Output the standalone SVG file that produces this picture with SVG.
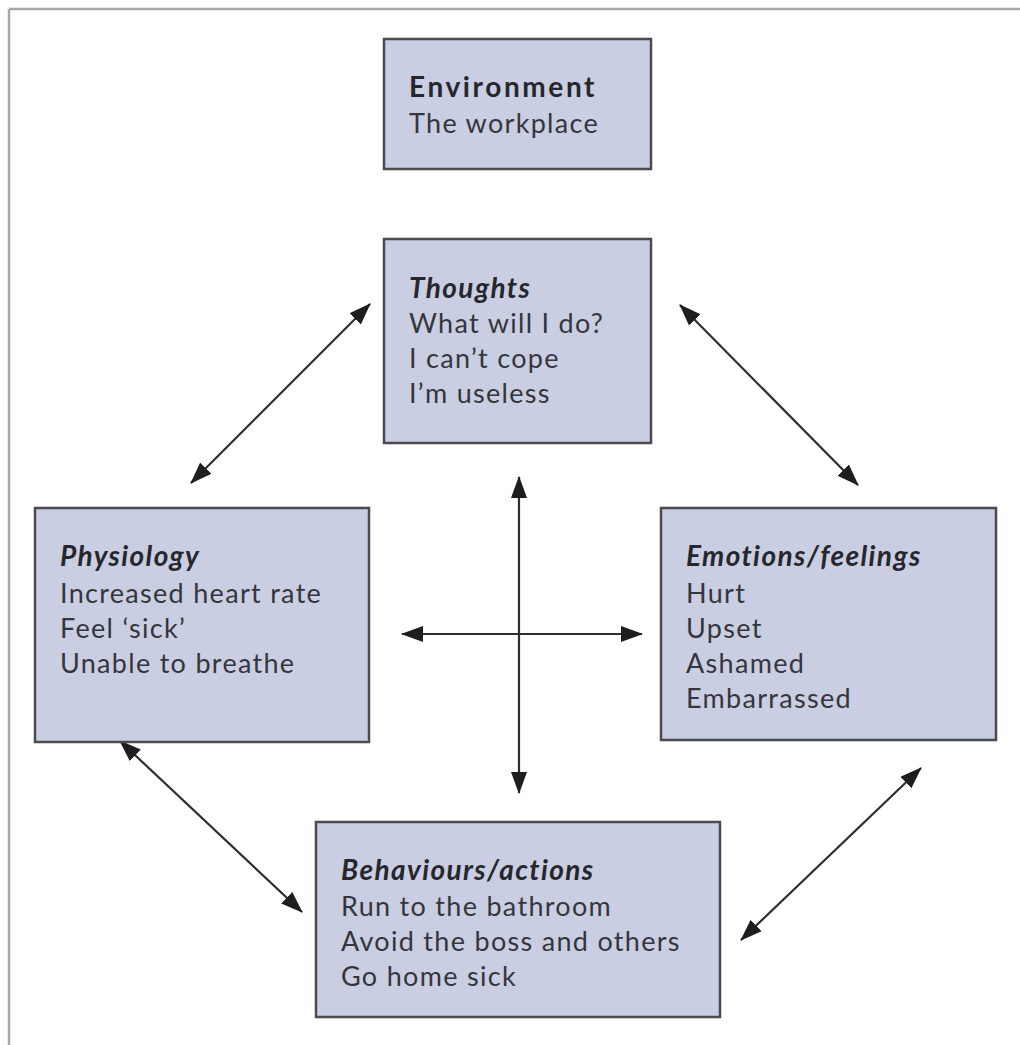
<svg xmlns="http://www.w3.org/2000/svg" width="1020" height="1045" viewBox="0 0 1020 1045">
  <defs>
    <style>
      .box { fill: #c9cee3; stroke: #4a4a4f; stroke-width: 2.5; }
      .txt { font-family: Lato, "Open Sans", "Liberation Sans", sans-serif; font-size: 27px; letter-spacing: 1.3px; fill: #35363c; }
      .head { font-size: 28px; font-weight: bold; fill: #26272c; letter-spacing: 1.4px; }
      .ital { font-style: italic; }
      .wide { letter-spacing: 2.6px; }
      .link { stroke: #2e2e2e; stroke-width: 2.2; fill: none; marker-start: url(#tip); marker-end: url(#tip); }
    </style>
    <marker id="tip" viewBox="0 0 22 16" refX="21" refY="8" markerWidth="22" markerHeight="16" markerUnits="userSpaceOnUse" orient="auto-start-reverse">
      <path d="M0,0 L22,8 L0,16 z" fill="#1e1e1e"/>
    </marker>
  </defs>
  <rect width="1020" height="1045" fill="#ffffff"/>

  <!-- page frame: top and left rules -->
  <line x1="9" y1="9" x2="1020" y2="9" stroke="#a8a8a8" stroke-width="2.5"/>
  <line x1="9" y1="9" x2="9" y2="1045" stroke="#a8a8a8" stroke-width="2.5"/>

  <g id="connectors">
    <line class="link" x1="191" y1="483" x2="370" y2="304"/>
    <line class="link" x1="680" y1="305" x2="858" y2="485"/>
    <line class="link" x1="519" y1="477" x2="519" y2="793"/>
    <line class="link" x1="402" y1="634" x2="642" y2="634"/>
    <line class="link" x1="120" y1="741" x2="302" y2="912"/>
    <line class="link" x1="921" y1="768" x2="741" y2="940"/>
  </g>

  <g id="environment">
    <rect class="box" x="384" y="39" width="267" height="130"/>
    <text class="txt head wide" x="409" y="97">Environment</text>
    <text class="txt" x="409" y="133">The workplace</text>
  </g>

  <g id="thoughts">
    <rect class="box" x="384" y="239" width="267" height="204"/>
    <text class="txt head ital" x="409" y="298">Thoughts</text>
    <text class="txt" x="409" y="333">What will I do?</text>
    <text class="txt" x="409" y="368">I can’t cope</text>
    <text class="txt" x="409" y="403">I’m useless</text>
  </g>

  <g id="physiology">
    <rect class="box" x="35" y="508" width="334" height="234"/>
    <text class="txt head ital" x="60" y="566">Physiology</text>
    <text class="txt" x="60" y="603">Increased heart rate</text>
    <text class="txt" x="60" y="638">Feel ‘sick’</text>
    <text class="txt" x="60" y="673">Unable to breathe</text>
  </g>

  <g id="emotions">
    <rect class="box" x="661" y="508" width="335" height="232"/>
    <text class="txt head ital" x="686" y="566">Emotions/feelings</text>
    <text class="txt" x="686" y="603">Hurt</text>
    <text class="txt" x="686" y="638">Upset</text>
    <text class="txt" x="686" y="673">Ashamed</text>
    <text class="txt" x="686" y="708">Embarrassed</text>
  </g>

  <g id="behaviours">
    <rect class="box" x="316" y="822" width="404" height="195"/>
    <text class="txt head ital" x="341" y="880">Behaviours/actions</text>
    <text class="txt" x="341" y="916">Run to the bathroom</text>
    <text class="txt" x="341" y="951">Avoid the boss and others</text>
    <text class="txt" x="341" y="986">Go home sick</text>
  </g>
</svg>
